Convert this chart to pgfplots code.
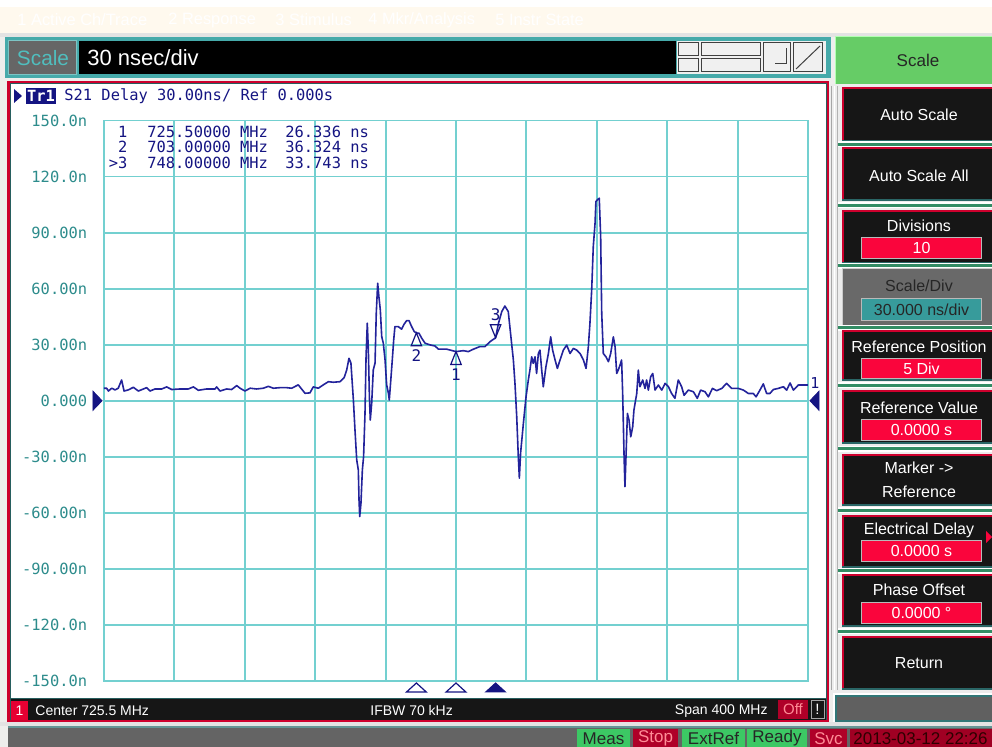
\documentclass[border=0pt]{standalone}
\usepackage{pgfplots}
\pgfplotsset{compat=1.18}
\usepackage{fontspec}
\setmainfont{Liberation Sans}
\newfontfamily\mono{DejaVu Sans Mono}
\definecolor{trace}{RGB}{35,35,155}
\definecolor{gridc}{RGB}{115,208,208}
\definecolor{tickc}{RGB}{45,140,140}
\definecolor{cream}{RGB}{255,249,238}
\definecolor{bgc}{RGB}{238,238,236}
\definecolor{tealb}{RGB}{70,170,170}
\definecolor{btnbg}{RGB}{22,22,22}
\definecolor{btnred}{RGB}{205,0,45}
\definecolor{valred}{RGB}{250,5,60}
\definecolor{sepg}{RGB}{50,140,100}
\definecolor{stgreen}{RGB}{60,200,100}
\definecolor{stred}{RGB}{175,0,40}
\definecolor{bandgray}{RGB}{100,100,100}
\definecolor{navy}{RGB}{20,20,130}
\definecolor{hdrgreen}{RGB}{102,204,102}
\definecolor{sdgray}{RGB}{105,105,105}
\definecolor{sdteal}{RGB}{55,155,155}
\definecolor{pinktxt}{RGB}{255,140,150}
\definecolor{midgray}{RGB}{96,96,96}
\definecolor{onered}{RGB}{230,0,50}
\definecolor{datered}{RGB}{160,0,35}
\definecolor{datetxt}{RGB}{45,0,0}
\definecolor{scaletxt}{RGB}{80,190,190}
\newcommand{\uifont}[1]{\fontsize{#1}{#1}\selectfont}
\newcommand{\monof}{\mono\fontsize{7.7}{9}\selectfont}
\newcommand{\button}[2]{%
  \fill[btnbg] (842,#1) rectangle (992,#2);
  \draw[btnred, line width=0.6pt] (843,#2) -- (843,{#1+1}) -- (992,{#1+1});
  \fill[tealb!60!black] (842,{#2-1.5}) rectangle (992,#2);
}
\newcommand{\valbox}[3]{%
  \fill[gray!55] (861,#1) rectangle (982,#2);
  \fill[valred] (862,{#1+1}) rectangle (981,{#2-1});
  \node[text=white, font=\uifont{8}] at (921.5,{(#1+#2)/2}) {#3};
}
\newcommand{\sep}[1]{%
  \fill[white] (838,{#1-3}) rectangle (992,{#1+3});
  \fill[sepg] (838,{#1-1.5}) rectangle (992,{#1+1.5});
}
\begin{document}
\begin{tikzpicture}
\begin{scope}[x=0.5pt,y=-0.5pt]
% background and menu bar
\fill[bgc] (0,0) rectangle (992,747);
\fill[white] (0,0) rectangle (992,7);
\fill[cream] (0,7) rectangle (992,33);
\fill[gray!22] (0,33) rectangle (992,37);
\begin{scope}[every node/.style={anchor=west, text=white, font=\uifont{8.2}, inner sep=0pt}]
\node at (17,20) {1 Active Ch/Trace};
\node at (168,20) {2 Response};
\node at (275,20) {3 Stimulus};
\node at (368,20) {4 Mkr/Analysis};
\node at (495,20) {5 Instr State};
\end{scope}
% scale entry bar
\fill[tealb] (5,37) rectangle (831,78);
\fill[gray!80!black] (8,40) rectangle (77,75);
\draw[tealb!70!white, line width=0.5pt] (8.5,40.5) rectangle (76.5,74.5);
\node[text=scaletxt, font=\uifont{10.4}] at (43,58) {Scale};
\fill[black] (79,41) rectangle (676,74);
\node[anchor=west, inner sep=0pt, text=white, font=\uifont{11}] at (87,58) {30 nsec/div};
\fill[gray!12] (677,41) rectangle (826,74);
\begin{scope}[draw=black!75, line width=0.5pt]
\draw (678,43) rectangle (698,56); \draw (678,59) rectangle (698,72);
\draw (701,43) rectangle (760,56); \draw (701,59) rectangle (760,72);
\draw (763,43) rectangle (790,72); \draw (775,64) -- (786,64) -- (786,48);
\draw (793,43) rectangle (822,72); \draw (796,69) -- (820,46);
\end{scope}
% right header
\fill[hdrgreen] (835,36) rectangle (992,84);
\draw[green!30!white, line width=0.6pt] (835.5,84) -- (835.5,36.5) -- (992,36.5);
\node[text=black!85, font=\uifont{8.5}] at (918,60) {Scale};
% right column
\fill[gray!15] (829,84) rectangle (992,695);
\draw[gray!70, line width=0.5pt] (831.5,86) -- (831.5,690);
\draw[white, line width=0.5pt] (834,86) -- (834,690);
\draw[gray!60, line width=0.5pt] (837,86) -- (837,690);
\button{87}{142}
\node[text=white, font=\uifont{8}] at (919,115) {Auto Scale};
\sep{144.5}
\button{147}{201}
\node[text=white, font=\uifont{8}] at (919,176) {Auto Scale All};
\sep{205.5}
\button{210}{264}
\node[text=white, font=\uifont{8}] at (919,226) {Divisions};
\valbox{237}{259}{10}
\sep{266}
\fill[sdgray] (842,268) rectangle (992,326);
\draw[gray!40, line width=0.5pt] (842.5,326) -- (842.5,268.5) -- (992,268.5);
\node[text=black!85, font=\uifont{8}] at (919,286) {Scale/Div};
\fill[gray!55] (861,298) rectangle (982,321);
\fill[sdteal] (862,299) rectangle (981,320);
\node[text=black!85, font=\uifont{8}] at (921.5,309.5) {30.000 ns/div};
\sep{328}
\button{330}{381}
\node[text=white, font=\uifont{8}] at (919,347) {Reference Position};
\valbox{358}{379}{5 Div}
\sep{385.5}
\button{390}{444}
\node[text=white, font=\uifont{8}] at (919,408) {Reference Value};
\valbox{419}{441}{0.0000 s}
\sep{449}
\button{454}{506}
\node[text=white, font=\uifont{8}] at (919,468) {Marker ->};
\node[text=white, font=\uifont{8}] at (919,492) {Reference};
\sep{510.5}
\button{515}{568}
\node[text=white, font=\uifont{8}] at (919,530) {Electrical Delay};
\valbox{540}{562}{0.0000 s}
\fill[valred] (986,531) -- (992,537) -- (986,543) -- cycle;
\sep{571}
\button{574}{627}
\node[text=white, font=\uifont{8}] at (919,590) {Phase Offset};
\valbox{602}{624}{0.0000 °}
\sep{631.5}
\button{636}{690}
\node[text=white, font=\uifont{8}] at (919,663) {Return};
\fill[white] (833,693) rectangle (992,723);
\fill[tealb!70!black] (835,695) rectangle (992,722);
\fill[midgray] (837,697) rectangle (992,720);
% chart panel
\fill[btnred] (7,81) rectangle (829,722);
\fill[tealb!55!black] (9.5,83) rectangle (826.5,720);
\fill[white] (10.5,84) rectangle (825.5,698);
\fill[btnbg] (10.5,699) rectangle (825.5,720);
% bottom band
\fill[gray!22] (0,722) rectangle (992,726);
\fill[tealb!50!gray] (8,726) rectangle (992,728);
\fill[bandgray] (8,728) rectangle (992,747);
\fill[bgc] (0,726) rectangle (8,747);
\end{scope}

\begin{axis}[
  at={(52pt,-60.25pt)}, anchor=north west,
  scale only axis, width=352pt, height=280.25pt,
  xmin=525.5, xmax=925.5, ymin=-150, ymax=150,
  xtick={525.5,565.5,605.5,645.5,685.5,725.5,765.5,805.5,845.5,885.5,925.5},
  xticklabel=\empty,
  ytick={-150,-120,-90,-60,-30,0,30,60,90,120,150},
  yticklabels={-150.0n,-120.0n,-90.00n,-60.00n,-30.00n,0.000,30.00n,60.00n,90.00n,120.0n,150.0n},
  yticklabel style={anchor=east, inner sep=0pt, xshift=-8.25pt, font=\monof, text=tickc},
  major tick length=0pt,
  grid=major,
  grid style={draw=gridc, line width=0.95pt},
  axis line style={draw=gridc, line width=0.95pt},
  axis background/.style={fill=white},
  clip=false,
]
\addplot[color=trace, line width=0.8pt, mark=none, line join=round] coordinates {
(525.5,6.7) (527.0,6.7) (528.0,5.2) (529.9,6.7) (531.8,5.8) (533.6,6.7) (535.5,11.1) (536.9,5.2)
(539.3,5.8) (542.2,7.2) (545.0,5.2) (547.9,6.3) (549.7,7.0) (551.6,5.2) (554.5,6.3) (558.3,6.3)
(561.1,7.4) (564.0,6.0) (568.7,6.3) (573.4,6.3) (576.3,7.4) (579.1,5.6) (583.8,6.3) (588.6,6.3)
(589.5,7.4) (591.4,5.2) (595.2,6.3) (598.0,6.0) (600.9,8.1) (602.8,6.7) (605.6,5.2) (608.5,6.7)
(612.2,6.3) (616.0,6.7) (618.9,7.7) (621.7,6.7) (625.5,7.0) (629.3,7.0) (632.1,6.7) (635.9,8.5)
(639.7,4.0) (642.5,4.2) (644.4,7.4) (647.3,6.7) (650.1,8.5) (653.0,10.2) (655.8,9.9) (659.6,10.2)
(662.0,12.5) (663.4,16.5) (664.7,22.7) (665.8,20.2) (667.2,0.4) (668.1,-15.6) (669.1,-31.7) (670.0,-37)
(670.4,-53.1) (670.8,-62) (671.5,-54.9) (672.3,-37) (673.0,-29.9) (673.8,-6.7) (674.4,23.6) (675.1,41.5)
(675.7,27.2) (676.3,2.2) (676.8,-10.3) (677.6,-1.3) (678.5,16.5) (679.5,20.1) (680.2,46.8) (681.0,62.9)
(681.7,55.7) (682.5,48.6) (683.3,34.3) (684.2,30.8) (685.2,21.8) (686.1,8.5) (687.1,4.0) (687.6,0.4)
(688.6,12.9) (689.3,21.8) (690.1,32.5) (690.8,39.7) (692.7,39.7) (694.6,38.3) (696.1,41.1) (697.5,42.9)
(698.8,42.9) (700.3,39.7) (701.8,37.0) (703.0,36.3) (704.5,36.1) (706.0,33.5) (707.9,30.8) (710.7,29.9)
(713.6,29.3) (715.5,27.6) (720.2,27.6) (725.5,26.3) (729.7,26.8) (732.5,26.3) (735.4,27.6) (739.1,29.0)
(742.0,29.0) (744.8,31.6) (748.0,33.7) (749.6,41.3) (751.5,47.7) (753.3,50.7) (755.2,47.7) (757.1,30.7)
(758.1,21.8) (759.0,9.4) (760.0,-8.4) (760.9,-29.8) (761.5,-41.4) (762.2,-28) (763.8,-12) (765.3,2.1)
(766.6,11.1) (767.5,16.4) (768.5,23.5) (769.4,20.0) (770.4,23.5) (771.3,14.6) (772.3,25.3) (773.2,27.1)
(774.2,16.4) (775.1,7.5) (776.6,18.2) (778.0,25.3) (779.3,34.2) (780.4,27.1) (781.8,21.8) (783.1,17.3)
(784.6,21.8) (786.5,27.1) (788.4,29.8) (790.3,25.3) (792.2,28.0) (794.1,27.1) (796.0,25.3) (797.9,21.8)
(799.4,17.3) (800.7,28.9) (801.6,41.4) (802.6,59.3) (803.5,82.5) (804.5,94.9) (805.0,106.6) (805.8,107.5)
(806.9,108.4) (807.7,87.8) (808.3,46.8) (809.2,25.3) (810.7,23.5) (812.1,20.9) (813.4,25.3) (814.9,34.2)
(815.9,28.9) (816.8,14.6) (817.7,16.4) (818.7,19.1) (819.6,21.8) (820.2,3.9) (821.0,-29.8) (821.5,-46)
(822.1,-29.8) (822.9,-6.8) (823.8,-10.3) (824.8,-19.3) (825.9,-13.9) (826.6,-5) (828.2,3.9) (829.1,16.4)
(830.0,7.5) (831.6,11.1) (832.9,6.6) (833.8,11.1) (834.8,5.7) (836.1,12.8) (837.3,14.6) (838.6,5.7)
(840.5,8.4) (842.4,5.7) (844.3,9.3) (846.2,7.5) (848.0,3.9) (849.9,1.3) (851.8,11.1) (853.7,7.5)
(855.1,2.9) (857.5,5.7) (860.4,4.8) (862.6,1.3) (864.5,5.7) (867.0,4.8) (868.9,2.1) (871.2,6.6)
(873.6,5.4) (876.5,6.6) (879.3,9.3) (882.1,6.6) (885.9,6.6) (888.8,5.7) (891.6,3.9) (894.4,3.9)
(896.0,2.1) (898.2,5.7) (900.1,9.0) (902.0,3.9) (903.9,3.9) (905.8,6.0) (908.6,6.6) (911.5,7.5)
(913.4,5.7) (915.3,9.5) (917.2,5.7) (920.0,8.4) (922.9,8.4) (925.5,8.4)
};
% markers 1 and 2 (on trace)
\addplot[only marks, mark=triangle, mark size=4.3pt,
  mark options={draw=navy, line width=0.6pt, yshift=-4.3pt, xscale=0.7},
  point meta=explicit symbolic, nodes near coords,
  every node near coord/.style={anchor=center, yshift=-7.25pt, text=navy, font=\mono\fontsize{8}{9}\selectfont, inner sep=0pt}]
  coordinates {(725.5,26.336) [1] (703,36.324) [2]};
% marker 3 (active)
\addplot[only marks, mark=triangle, mark size=4.3pt,
  mark options={draw=navy, line width=0.6pt, yshift=4.3pt, rotate=180, xscale=0.7},
  point meta=explicit symbolic, nodes near coords,
  every node near coord/.style={anchor=center, yshift=7pt, text=navy, font=\mono\fontsize{8}{9}\selectfont, inner sep=0pt}]
  coordinates {(748,33.743) [3]};
% stimulus markers under the grid
\addplot[only marks, mark=triangle, mark size=3pt,
  mark options={draw=navy, line width=0.6pt, yshift=-4pt, xscale=1.9}]
  coordinates {(703,-150) (725.5,-150)};
\addplot[only marks, mark=triangle*, mark size=3pt,
  mark options={draw=navy, fill=navy, line width=0.5pt, yshift=-4pt, xscale=1.9}]
  coordinates {(748,-150)};
% reference position indicators
\addplot[only marks, mark=triangle*, mark size=5.5pt,
  mark options={draw=navy, fill=navy, xshift=-4pt, rotate=-90, yscale=0.55}]
  coordinates {(525.5,0)};
\addplot[only marks, mark=triangle*, mark size=5.5pt,
  mark options={draw=navy, fill=navy, xshift=4pt, rotate=90, yscale=0.55}]
  coordinates {(925.5,0)};
% trace number at right end
\addplot[draw=none, mark=none, point meta=explicit symbolic, nodes near coords,
  every node near coord/.style={anchor=center, xshift=3.5pt, yshift=1pt, text=navy, font=\mono\fontsize{7.5}{9}\selectfont, inner sep=0pt}]
  coordinates {(925.5,8.4) [1]};
\end{axis}

\begin{scope}[x=0.5pt,y=-0.5pt]
% trace title line
\fill[navy] (14,89) -- (22,96) -- (14,103) -- cycle;
\fill[navy] (26,88) rectangle (56,104);
\node[text=white, font=\monof\bfseries, inner sep=0pt] at (41,96) {Tr1};
\node[anchor=west, inner sep=0pt, text=navy, font=\monof] at (64,96) {S21 Delay 30.00ns/ Ref 0.000s};
% marker table
\begin{scope}[every node/.style={inner sep=0pt, text=navy, font=\monof}]
\node[anchor=east] at (127.8,131.7) {1};
\node[anchor=west] at (147,131.7) {725.50000 MHz};
\node[anchor=west] at (285,131.7) {26.336 ns};
\node[anchor=east] at (127.8,147.2) {2};
\node[anchor=west] at (147,147.2) {703.00000 MHz};
\node[anchor=west] at (285,147.2) {36.324 ns};
\node[anchor=east] at (127.8,162.7) {>3};
\node[anchor=west] at (147,162.7) {748.00000 MHz};
\node[anchor=west] at (285,162.7) {33.743 ns};
\end{scope}
% channel status bar
\fill[onered] (11,701) rectangle (28,720);
\node[text=white, font=\uifont{7}] at (19.5,710.5) {1};
\node[anchor=west, inner sep=0pt, text=white, font=\uifont{7}] at (35,711) {Center 725.5 MHz};
\node[anchor=west, inner sep=0pt, text=white, font=\uifont{7}] at (370,711) {IFBW 70 kHz};
\node[anchor=east, inner sep=0pt, text=white, font=\uifont{7}] at (768,711) {Span 400 MHz};
\fill[stred] (778,700) rectangle (808,719);
\node[text=pinktxt, font=\uifont{7.5}] at (793,709.5) {Off};
\draw[gray!70, line width=0.5pt] (811,700.5) rectangle (824,718.5);
\node[text=white, font=\uifont{7.5}] at (817.5,709.5) {!};
% instrument status line
\begin{scope}[every node/.style={font=\uifont{8.5}, inner sep=0pt}]
\fill[stgreen] (577,729) rectangle (630,747);
\node[text=black!85] at (603.5,738.5) {Meas};
\fill[stred] (633,729) rectangle (678,747);
\node[text=pinktxt] at (655.5,738.5) {Stop};
\fill[stgreen] (682,729) rectangle (745,747);
\node[text=black!85] at (713.5,738.5) {ExtRef};
\fill[stgreen] (747,729) rectangle (807,747);
\node[text=black!85] at (777,738.5) {Ready};
\fill[stred] (810,729) rectangle (847,747);
\node[text=pinktxt] at (828.5,738.5) {Svc};
\fill[datered] (850,729) rectangle (992,747);
\node[anchor=west, text=datetxt] at (853,738.5) {2013-03-12 22:26};
\end{scope}
\end{scope}
\pgfresetboundingbox
\begin{scope}[x=0.5pt,y=-0.5pt]
\path[use as bounding box] (0,0) rectangle (992,747);
\end{scope}
\end{tikzpicture}
\end{document}
